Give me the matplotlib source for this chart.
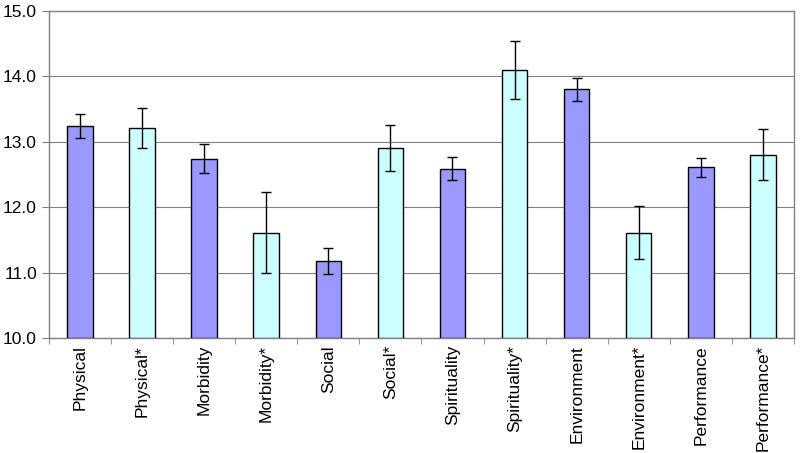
import matplotlib.pyplot as plt
import numpy as np

labels = ['Physical', 'Physical*', 'Morbidity', 'Morbidity*', 'Social', 'Social*',
          'Spirituality', 'Spirituality*', 'Environment', 'Environment*',
          'Performance', 'Performance*']
means = [13.24, 13.21, 12.74, 11.61, 11.18, 12.90, 12.59, 14.10, 13.80, 11.61, 12.61, 12.80]
errs = [0.19, 0.31, 0.22, 0.62, 0.20, 0.35, 0.17, 0.445, 0.18, 0.41, 0.145, 0.39]

plt.rcParams['font.family'] = ['Liberation Sans', 'DejaVu Sans']

fig = plt.figure(figsize=(8, 4.53), dpi=100)
ax = fig.add_axes([0.061, 0.254, 0.9315, 0.722])

N = len(labels)
ind = np.arange(N)
colors = ['#9999ff' if i % 2 == 0 else '#ccffff' for i in range(N)]

ax.bar(ind, np.array(means) - 10, 0.41, bottom=10, color=colors,
       edgecolor='black', linewidth=1, zorder=3)
ax.errorbar(ind, means, yerr=errs, fmt='none', ecolor='black',
            elinewidth=1, capsize=3.5, capthick=1, zorder=4)

ax.set_ylim(10, 15)
ax.set_xlim(-0.5, N - 0.5)
ax.set_yticks(np.arange(10, 15.01, 1))
ax.set_yticklabels(['%.1f' % v for v in np.arange(10, 15.01, 1)], fontsize=12.5)
ax.set_xticks(ind)
ax.set_xticklabels(labels, rotation=90, fontsize=12.5)
ax.tick_params(axis='x', which='major', length=0, pad=5)
ax.set_xticks(np.arange(-0.5, N, 1), minor=True)
ax.tick_params(axis='x', which='minor', length=4, color='#808080', direction='out')
ax.tick_params(axis='y', length=5, color='#808080', direction='out')

ax.grid(axis='y', color='#808080', linewidth=0.8, zorder=0)
for s in ax.spines.values():
    s.set_color('#808080')
    s.set_linewidth(1)

fig.savefig('out.png', dpi=100)
